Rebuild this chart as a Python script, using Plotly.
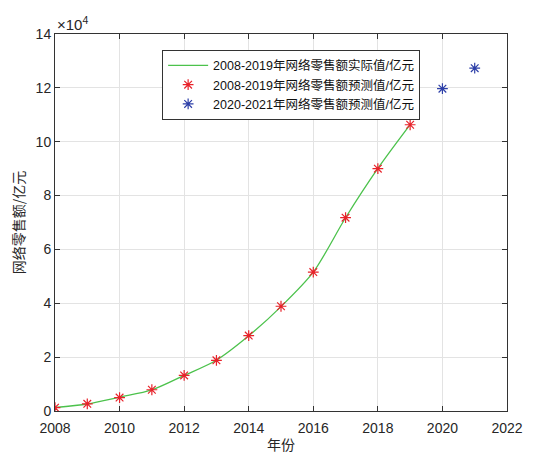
import plotly.graph_objects as go

# Online retail sales (100 million yuan)
years_hist = [2008, 2009, 2010, 2011, 2012, 2013, 2014, 2015, 2016, 2017, 2018, 2019]
actual = [1300, 2600, 5131, 7825, 13205, 18851, 27898, 38773, 51556, 71751, 90065, 106324]
fitted = [1250, 2650, 5000, 7900, 13200, 18800, 28000, 38900, 51600, 71800, 90000, 106300]
years_fore = [2020, 2021]
forecast = [119700, 127300]

y_ticks = [0, 20000, 40000, 60000, 80000, 100000, 120000, 140000]
y_tick_text = ["0", "2", "4", "6", "8", "10", "12", "14"]
x_ticks = [2008, 2010, 2012, 2014, 2016, 2018, 2020, 2022]

font_main = "Liberation Sans, Arial, Noto Sans CJK SC"
font_cjk = "Noto Sans CJK SC"

fig = go.Figure()
fig.add_trace(go.Scatter(
    x=years_hist, y=actual, mode="lines",
    line=dict(color="#4cc24c", width=1.3, shape="spline", smoothing=0.8),
    name="2008-2019年网络零售额实际值/亿元"))
fig.add_trace(go.Scatter(
    x=years_hist, y=fitted, mode="markers",
    marker=dict(symbol="asterisk-open", size=9, color="#e8222a", line=dict(color="#e8222a", width=1.2)),
    name="2008-2019年网络零售额预测值/亿元"))
fig.add_trace(go.Scatter(
    x=years_fore, y=forecast, mode="markers",
    marker=dict(symbol="asterisk-open", size=9, color="#2d3fa8", line=dict(color="#2d3fa8", width=1.2)),
    name="2020-2021年网络零售额预测值/亿元"))

axis_common = dict(
    showline=True, linecolor="#333333", linewidth=1, mirror="ticks",
    ticks="inside", ticklen=5, tickcolor="#333333",
    showgrid=True, gridcolor="#e3e3e3", gridwidth=1, zeroline=False,
    tickfont=dict(family=font_main, size=14, color="#262626"),
    automargin=False,
)

fig.update_xaxes(range=[2008, 2022], tickvals=x_ticks, ticklabelstandoff=4,
                 title=dict(text="年份", font=dict(family=font_cjk, size=14, color="#262626"), standoff=7),
                 **axis_common)
fig.update_yaxes(range=[0, 140000], tickvals=y_ticks, ticktext=y_tick_text,
                 title=dict(text="网络零售额/亿元", font=dict(family=font_cjk, size=14, color="#262626"), standoff=7),
                 **axis_common)

fig.add_annotation(xref="paper", yref="paper", x=0, y=1, xanchor="left", yanchor="bottom",
                   text="×10<sup>4</sup>", showarrow=False, yshift=-1,
                   font=dict(family=font_main, size=15, color="#262626"))

fig.update_layout(
    width=551, height=454,
    margin=dict(l=55, r=44, t=34, b=43),
    paper_bgcolor="white", plot_bgcolor="white",
    showlegend=True,
    legend=dict(x=0.237, y=0.958, xanchor="left", yanchor="top",
                bgcolor="white", bordercolor="#333333", borderwidth=1,
                font=dict(family=font_main, size=12.5, color="#111111"),
                tracegroupgap=0, itemwidth=40),
)

fig.write_html("out.html")
